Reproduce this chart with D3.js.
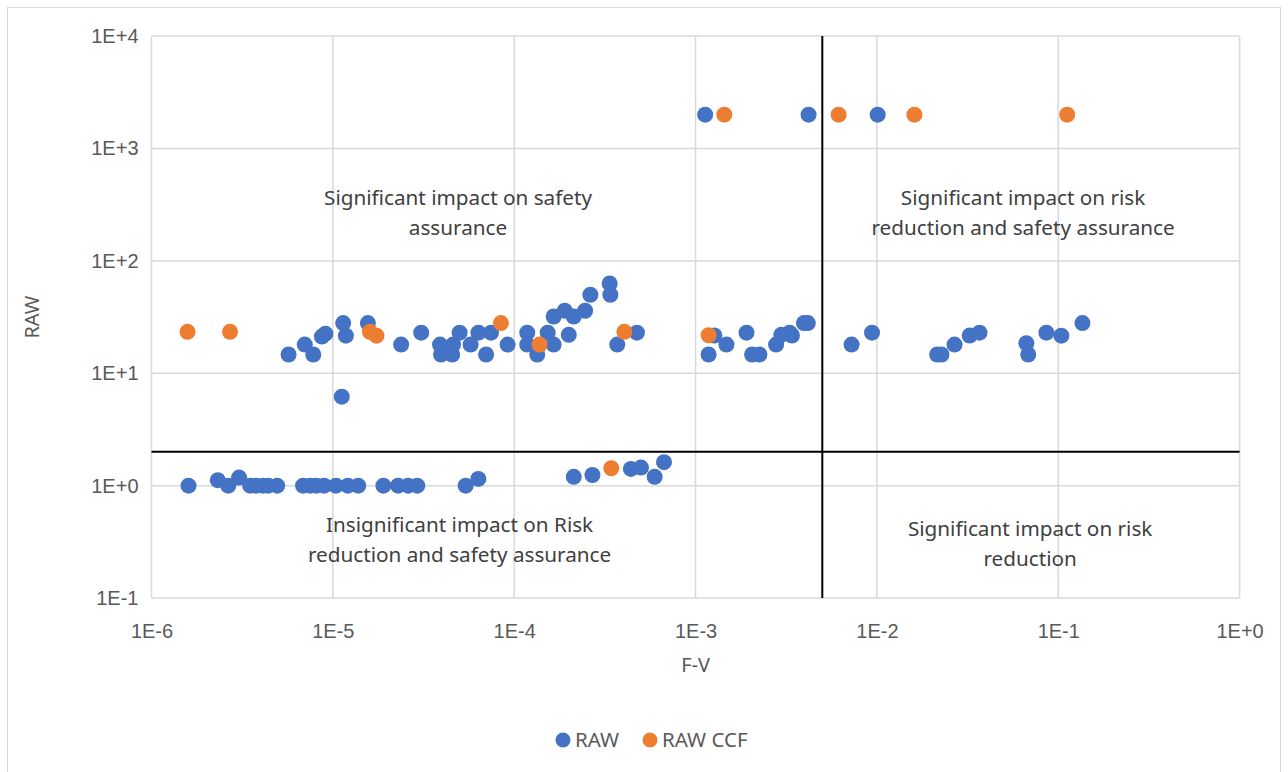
<!DOCTYPE html>
<html>
<head>
<meta charset="utf-8">
<script src="https://cdn.jsdelivr.net/npm/d3@7"></script>
<style>
  body { margin: 0; background: #fff; }
  svg { font-family: "Noto Sans", "Open Sans", sans-serif; }
</style>
</head>
<body>
<svg id="chart"></svg>
<script>
const WIDTH = 1288;
const HEIGHT = 772;

// plot area
const LEFT = 151.5;
const RIGHT = 1239.6;
const TOP = 36.1;
const BOTTOM = 598.1;

const xTicks = [1e-6, 1e-5, 1e-4, 1e-3, 1e-2, 1e-1, 1];
const xTickLabels = ["1E-6", "1E-5", "1E-4", "1E-3", "1E-2", "1E-1", "1E+0"];
const yTicks = [0.1, 1, 10, 100, 1000, 10000];
const yTickLabels = ["1E-1", "1E+0", "1E+1", "1E+2", "1E+3", "1E+4"];

// thresholds
const fvLimit = 5e-3;
const rawLimit = 2;

// RAW series: [F-V, RAW]
const rawPoints = [
  [5.7e-6, 14.7], [7.0e-6, 18], [7.8e-6, 14.7], [8.7e-6, 21.2], [9.1e-6, 22.5],
  [1.14e-5, 28], [1.18e-5, 21.6], [1.12e-5, 6.2], [1.56e-5, 28], [2.38e-5, 18],
  [3.07e-5, 23], [3.9e-5, 18], [3.95e-5, 14.7], [4.55e-5, 14.7], [4.6e-5, 18],
  [5.0e-5, 23], [5.75e-5, 18], [6.35e-5, 23], [7.0e-5, 14.7], [7.45e-5, 23],
  [9.2e-5, 18], [1.18e-4, 23], [1.18e-4, 18], [1.34e-4, 14.7], [1.53e-4, 23],
  [1.65e-4, 18], [1.65e-4, 32], [1.9e-4, 36], [2.0e-4, 22], [2.13e-4, 32],
  [2.46e-4, 36], [2.63e-4, 50], [3.36e-4, 63], [3.39e-4, 50], [3.7e-4, 18],
  [4.75e-4, 23], [1.18e-3, 14.7], [1.27e-3, 21.7], [1.48e-3, 18], [1.91e-3, 23],
  [2.05e-3, 14.7], [2.25e-3, 14.7], [2.78e-3, 18], [2.97e-3, 22], [3.3e-3, 23],
  [3.4e-3, 21.7], [3.96e-3, 28], [4.16e-3, 28], [7.25e-3, 18], [9.4e-3, 23],
  [2.15e-2, 14.7], [2.27e-2, 14.7], [2.68e-2, 18], [3.25e-2, 21.7], [3.68e-2, 23],
  [6.67e-2, 18.5], [6.83e-2, 14.7], [8.6e-2, 23], [1.04e-1, 21.6], [1.36e-1, 28],
  [1.13e-3, 2000], [4.2e-3, 2000], [1.01e-2, 2000],
  [1.6e-6, 1.0], [2.32e-6, 1.12], [2.65e-6, 1.0], [3.04e-6, 1.18], [3.5e-6, 1.0],
  [3.77e-6, 1.0], [4.12e-6, 1.0], [4.4e-6, 1.0], [4.93e-6, 1.0], [6.85e-6, 1.0],
  [7.5e-6, 1.0], [8.1e-6, 1.0], [8.95e-6, 1.0], [1.04e-5, 1.0], [1.21e-5, 1.0],
  [1.38e-5, 1.0], [1.9e-5, 1.0], [2.29e-5, 1.0], [2.6e-5, 1.0], [2.92e-5, 1.0],
  [5.4e-5, 1.0], [6.34e-5, 1.15], [2.13e-4, 1.2], [2.7e-4, 1.245], [4.4e-4, 1.41],
  [5.0e-4, 1.45], [5.95e-4, 1.2], [6.7e-4, 1.62]
];

// RAW CCF series: [F-V, RAW]
const ccfPoints = [
  [1.58e-6, 23.4], [2.71e-6, 23.4], [1.6e-5, 23.4], [1.74e-5, 21.6], [8.45e-5, 28],
  [1.38e-4, 18], [4.05e-4, 23.4], [1.18e-3, 21.8], [3.43e-4, 1.43],
  [1.44e-3, 2000], [6.15e-3, 2000], [1.61e-2, 2000], [1.12e-1, 2000]
];

const seriesNames = ["RAW", "RAW CCF"];
const seriesColors = ["#4472C4", "#ED7D31"];

// quadrant labels, anchored at [F-V, RAW] of the first line's baseline
const regionLabels = [
  { lines: ["Significant impact on safety", "assurance"], fv: 4.9e-5, raw: 314 },
  { lines: ["Significant impact on risk", "reduction and safety assurance"], fv: 6.4e-2, raw: 314 },
  { lines: ["Insignificant impact on Risk", "reduction and safety assurance"], fv: 5.0e-5, raw: 0.39 },
  { lines: ["Significant impact on risk", "reduction"], fv: 7.0e-2, raw: 0.36 }
];

const svg = d3.select("#chart").attr("width", WIDTH).attr("height", HEIGHT);

// chart border
svg.append("rect")
  .attr("x", 7.5).attr("y", 7.5)
  .attr("width", 1273).attr("height", 770)
  .attr("fill", "none")
  .attr("stroke", "#d9d9d9");

const x = d3.scaleLog().domain([1e-6, 1]).range([LEFT, RIGHT]);
const y = d3.scaleLog().domain([0.1, 1e4]).range([BOTTOM, TOP]);

// gridlines
svg.append("g")
  .selectAll("line.vgrid")
  .data(xTicks)
  .join("line")
  .attr("x1", d => x(d)).attr("x2", d => x(d))
  .attr("y1", TOP).attr("y2", BOTTOM)
  .attr("stroke", "#d9d9d9").attr("stroke-width", 1.5);

svg.append("g")
  .selectAll("line.hgrid")
  .data(yTicks)
  .join("line")
  .attr("x1", LEFT).attr("x2", RIGHT)
  .attr("y1", d => y(d)).attr("y2", d => y(d))
  .attr("stroke", "#d9d9d9").attr("stroke-width", 1.5);

// axes (labels only, Excel style)
const xAxis = d3.axisBottom(x)
  .tickValues(xTicks)
  .tickFormat((d, i) => xTickLabels[i])
  .tickSize(0)
  .tickPadding(26);

const yAxis = d3.axisLeft(y)
  .tickValues(yTicks)
  .tickFormat((d, i) => yTickLabels[i])
  .tickSize(0)
  .tickPadding(13);

svg.append("g")
  .attr("transform", `translate(0, ${BOTTOM})`)
  .call(xAxis)
  .call(g => g.select(".domain").remove())
  .selectAll("text")
  .attr("fill", "#595959")
  .style("font-size", "20px");

svg.append("g")
  .attr("transform", `translate(${LEFT}, 0)`)
  .call(yAxis)
  .call(g => g.select(".domain").remove())
  .selectAll("text")
  .attr("fill", "#595959")
  .style("font-size", "20px");

// threshold lines
svg.append("line")
  .attr("x1", x(fvLimit)).attr("x2", x(fvLimit))
  .attr("y1", TOP).attr("y2", BOTTOM)
  .attr("stroke", "#000").attr("stroke-width", 2);

svg.append("line")
  .attr("x1", LEFT).attr("x2", RIGHT)
  .attr("y1", y(rawLimit)).attr("y2", y(rawLimit))
  .attr("stroke", "#000").attr("stroke-width", 2);

// points
[rawPoints, ccfPoints].forEach((pts, i) => {
  svg.append("g")
    .selectAll("circle")
    .data(pts)
    .join("circle")
    .attr("cx", d => x(d[0]))
    .attr("cy", d => y(d[1]))
    .attr("r", 8)
    .attr("fill", seriesColors[i]);
});

// region labels
regionLabels.forEach(lbl => {
  const t = svg.append("text")
    .attr("text-anchor", "middle")
    .attr("fill", "#404040")
    .style("font-size", "20.7px");
  lbl.lines.forEach((line, j) => {
    t.append("tspan")
      .attr("x", x(lbl.fv))
      .attr("y", y(lbl.raw) + j * 30)
      .text(line);
  });
});

// axis titles
svg.append("text")
  .attr("x", (LEFT + RIGHT) / 2)
  .attr("y", 672)
  .attr("text-anchor", "middle")
  .attr("fill", "#595959")
  .style("font-size", "20px")
  .text("F-V");

svg.append("text")
  .attr("transform", `translate(39, ${(TOP + BOTTOM) / 2}) rotate(-90)`)
  .attr("text-anchor", "middle")
  .attr("fill", "#595959")
  .style("font-size", "20px")
  .text("RAW");

// legend
const legend = svg.append("g").attr("transform", "translate(563, 740)");
const legendX = [0, 87];
seriesNames.forEach((name, i) => {
  legend.append("circle")
    .attr("cx", legendX[i]).attr("cy", 0)
    .attr("r", 7.5)
    .attr("fill", seriesColors[i]);
  legend.append("text")
    .attr("x", legendX[i] + 12)
    .attr("y", 7)
    .attr("fill", "#595959")
    .style("font-size", "20.5px")
    .text(name);
});
</script>
</body>
</html>
